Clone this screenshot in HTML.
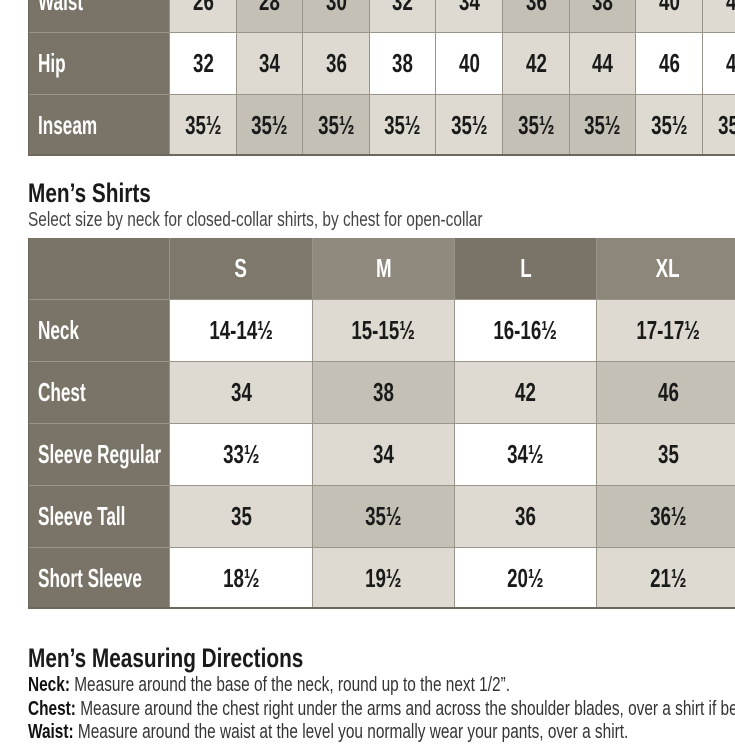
<!DOCTYPE html>
<html><head><meta charset="utf-8"><style>
body{margin:0;width:735px;height:735px;overflow:hidden;background:#fff;position:relative;font-family:"Liberation Sans",sans-serif}
.c{position:absolute;display:flex;align-items:center;justify-content:center;box-sizing:border-box;border-right:1px solid #9a958b;border-bottom:1px solid #9a958b;font-weight:bold;font-size:26px;color:#1a1a1a;overflow:hidden}
.c span,.t span{display:inline-block;transform:scaleX(0.72);white-space:nowrap}
.l{justify-content:flex-start;background:#7a7367;color:#fff;padding-left:10px}
.l span{transform-origin:left center;transform:scaleX(0.66)}
.w{background:#fff}.a{background:#dedad1}.d{background:#c5c0b6}
.t{position:absolute;white-space:nowrap;color:#1a1a1a}
.t span{transform-origin:left center;transform:scaleX(0.77)}
</style></head><body>
<div id="root"></div>
<div class="t" style="left:28px;top:178px;font-size:27px;font-weight:bold"><span>Men’s Shirts</span></div>
<div class="t" style="left:28px;top:209px;font-size:20px;color:#444"><span>Select size by neck for closed-collar shirts, by chest for open-collar</span></div>
<div class="t" style="left:28px;top:643px;font-size:27px;font-weight:bold"><span>Men’s Measuring Directions</span></div>
<div class="t" style="left:28px;top:674px;font-size:20px;color:#333"><span><b style="color:#111">Neck:</b> Measure around the base of the neck, round up to the next 1/2”.</span></div>
<div class="t" style="left:28px;top:698px;font-size:20px;color:#333"><span><b style="color:#111">Chest:</b> Measure around the chest right under the arms and across the shoulder blades, over a shirt if belly</span></div>
<div class="t" style="left:28px;top:721px;font-size:20px;color:#333"><span><b style="color:#111">Waist:</b> Measure around the waist at the level you normally wear your pants, over a shirt.</span></div>
<script>
var r=document.getElementById('root'),h='';
function cell(x,y,w,hh,cls,txt,st){h+='<div class="c '+cls+'" style="left:'+x+'px;top:'+y+'px;width:'+w+'px;height:'+hh+'px;'+(st||'')+'"><span>'+txt+'</span></div>';}
var xs=[170,237,303,370,436,503,570,636,703,770];
var ys=[-30,33,95,156];
var rows=[['Waist',['26','28','30','32','34','36','38','40','42'],'addaaddaa'],
['Hip',['32','34','36','38','40','42','44','46','48'],'waawwaaww'],
['Inseam',Array(9).fill('35½'),'addaaddaa']];
for(var i=0;i<3;i++){cell(28,ys[i],142,ys[i+1]-ys[i],'l',rows[i][0]);
for(var j=0;j<9;j++)cell(xs[j],ys[i],xs[j+1]-xs[j],ys[i+1]-ys[i],rows[i][2][j],rows[i][1][j]);}
h+='<div style="position:absolute;left:28px;top:154px;width:707px;height:2px;background:#6d675d"></div>';
h+='<div style="position:absolute;left:28px;top:0;width:1px;height:156px;background:#6d675d"></div>';
var sx=[170,313,455,597,740];var sy=[238,300,362,424,486,548,609];
var hc=['#7e776b','#8f897e','#7a7367','#8c867b'];
cell(28,238,142,62,'l','');
['S','M','L','XL'].forEach(function(s,j){cell(sx[j],238,sx[j+1]-sx[j],62,'',s,'background:'+hc[j]+';color:#fff');});
var sr=[['Neck',['14-14½','15-15½','16-16½','17-17½'],'wawa'],['Chest',['34','38','42','46'],'adad'],
['Sleeve Regular',['33½','34','34½','35'],'wawa'],['Sleeve Tall',['35','35½','36','36½'],'adad'],['Short Sleeve',['18½','19½','20½','21½'],'wawa']];
for(var i=0;i<5;i++){cell(28,sy[i+1],142,sy[i+2]-sy[i+1],'l',sr[i][0]);
for(var j=0;j<4;j++)cell(sx[j],sy[i+1],sx[j+1]-sx[j],sy[i+2]-sy[i+1],sr[i][2][j],sr[i][1][j]);}
h+='<div style="position:absolute;left:28px;top:607px;width:707px;height:2px;background:#6d675d"></div>';
h+='<div style="position:absolute;left:28px;top:238px;width:1px;height:371px;background:#6d675d"></div>';
r.innerHTML=h;
</script>
</body></html>
